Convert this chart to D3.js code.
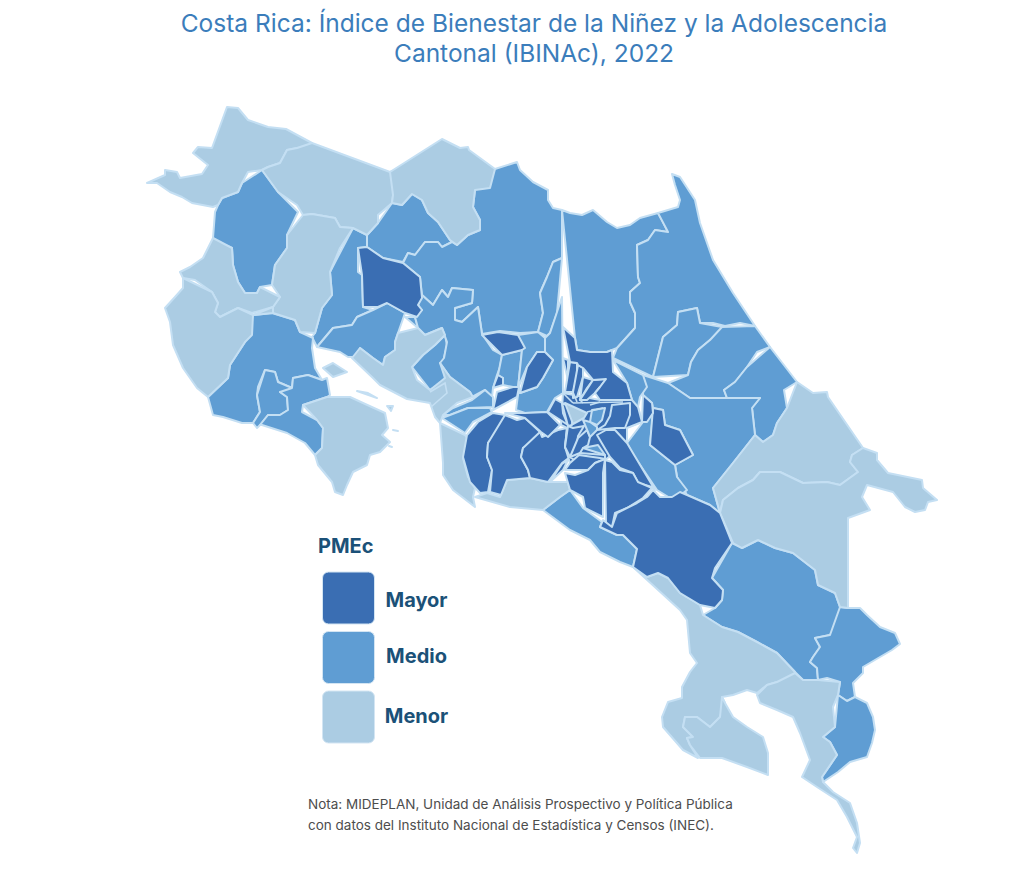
<!DOCTYPE html>
<html>
  <head>
    <meta charset="utf-8">
    <title>IBINAc 2022</title>
    <style>
      body { margin: 0; background: #fff; }
      svg { display: block; font-family: Inter, "Noto Sans", sans-serif; }
    </style>
  </head>
  <body>
    <script src="https://d3js.org/d3.v7.min.js"></script>
    <script>
      // Contornos, en unidades de mapa "x,y x,y ..."
      const cantonesMenor = [
        "227,107 238,108 248,120 268,127 286,129 312,143 308,155 297,148 287,150 280,163 268,167 262,170 248,172 242,183 238,192 222,198 218,205 213,207 192,203 182,197 170,192 157,183 147,183 165,175 165,170 177,172 180,178 202,174 208,165 193,153 198,147 212,148 208,138",
        "312,143 390,172 395,170 393,195 392,203 378,215 378,223 367,235 353,228 340,227 335,218 312,214 303,215 297,205 278,192 262,170 268,167 280,163 287,150 297,148 308,155",
        "390,172 442,139 460,148 468,147 469,150 495,169 490,188 475,190 473,207 480,220 480,230 468,235 457,245 450,240 438,222 428,213 422,200 412,194 402,205 392,203 393,195 395,170",
        "303,215 312,214 335,218 340,227 353,228 340,248 330,272 332,295 322,308 315,333 300,332 295,320 273,313 273,307 280,297 272,285 275,265 287,248 287,235 298,212",
        "213,238 208,248 203,258 190,267 180,272 183,278 195,280 212,292 218,303 215,312 220,317 238,308 252,313 273,307 280,297 260,287 257,293 245,293 238,282 233,265 232,248 220,243",
        "253,315 273,307 273,313 260,317",
        "183,278 183,288 175,297 165,308 170,322 173,345 183,368 197,388 208,397 228,378 230,365 245,342 252,335 253,315 238,308 220,317 215,312 218,303 212,292 195,280",
        "303,405 327,397 337,397 350,397 363,403 385,413 388,428 382,435 390,442 380,452 370,455 367,465 353,472 347,485 343,495 335,492 332,482 318,465 315,455 322,448 323,428 317,420 302,412",
        "323,368 333,363 347,372 333,377 325,375",
        "357,391 368,393 377,398 366,397",
        "387,406 393,406 391,411 387,410",
        "393,430 398,431 394,435",
        "389,446 392,447 391,450",
        "352,358 360,348 373,358 383,365 385,357 395,350 395,342 398,333 418,328 425,335 442,328 445,335 435,345 423,355 412,367 417,380 430,390 445,378 440,363 450,377 470,392 473,397 457,403 443,415 440,423 435,417 430,403 407,399 380,385 373,378 360,367",
        "440,423 465,435 475,447 463,458 468,477 475,488 473,497 475,507 453,490 443,475 443,463 450,447",
        "475,497 487,493 500,497 507,480 530,478 548,482 568,482 570,490 560,497 543,510 510,507 475,507",
        "797,382 813,393 827,392 828,397 863,448 852,455 850,462 858,472 840,485 827,482 803,483 780,472 760,472 753,480 738,488 723,500 720,513 713,488 733,463 755,435 763,442 773,435 777,423 787,408 784,390",
        "720,513 723,500 738,488 753,480 760,472 780,472 803,483 827,482 840,485 858,472 850,462 852,455 863,448 877,453 877,460 888,473 922,480 923,488 937,500 928,502 925,510 915,512 905,507 893,492 867,485 862,497 870,510 848,518 848,608 840,607 835,593 818,585 815,570 793,553 775,548 758,540 742,548 733,543 723,532",
        "633,567 647,577 658,573 668,578 680,593 700,605 703,615 722,627 738,632 757,642 777,653 795,672 793,690 777,682 767,685 757,693 747,690 733,695 722,697 725,703 723,707 720,717 710,727 697,717 685,717 683,727 693,737 687,738 690,745 698,758 683,750 663,727 662,717 668,702 682,698 682,687 690,672 697,663 690,653 687,620 680,610 657,583",
        "722,697 725,703 733,717 747,727 763,737 768,753 768,775 747,767 722,758 700,758 690,745 687,738 693,737 683,727 685,717 697,717 710,727 720,717 723,707",
        "795,673 803,680 818,680 840,682 838,695 833,707 835,727 823,737 830,742 837,755 822,777 823,782 833,792 850,803 857,823 860,843 857,853 853,848 857,837 847,817 837,800 817,787 802,777 810,760 800,733 793,717 777,710 760,703 757,695 767,685 777,682 793,690"
      ];
      const cantonesMedio = [
        "262,170 278,192 298,212 287,235 287,248 275,265 272,285 260,287 257,293 245,293 238,282 233,265 232,248 220,243 213,238 215,212 218,205 222,198 238,192 242,183 248,172",
        "392,203 402,205 412,194 422,200 428,213 438,222 450,240 452,242 442,247 438,242 425,242 415,255 408,253 403,262 383,258 367,247 367,235 378,223 378,215",
        "353,228 367,235 367,247 358,248 358,272 362,275 363,307 373,310 357,317 352,325 333,328 317,347 312,337 315,333 322,308 332,295 330,272 340,248",
        "317,347 333,328 352,325 357,317 373,310 387,303 405,313 398,333 395,342 395,350 385,357 383,365 373,358 360,348 357,357 348,357 340,352 320,352",
        "405,317 415,317 418,328 400,333",
        "412,367 423,355 435,345 445,335 447,345 444,358 445,380 430,390 417,380",
        "495,169 517,162 520,170 533,182 548,190 548,200 553,208 562,210 562,258 553,262 547,277 540,293 543,313 538,332 520,333 500,331 482,334 478,307 462,322 455,320 455,308 472,303 473,290 452,288 448,297 442,290 433,305 422,295 420,277 403,263 408,253 415,255 425,242 438,242 442,247 452,242 457,245 468,235 480,230 480,220 473,207 475,190 490,188",
        "422,295 433,305 442,290 448,297 452,288 473,290 472,303 455,308 455,320 462,322 478,307 482,334 493,350 502,355 500,367 497,375 493,388 492,397 485,390 472,397 470,392 450,377 440,363 444,358 447,342 442,328 425,335 418,328 415,317 422,310 418,305 422,298",
        "562,258 553,262 547,277 540,293 543,313 538,332 547,336 550,333 557,313 562,297",
        "562,297 563,393 555,398 547,412 525,413 516,410 519,387 520,393 537,387 543,378 553,360 545,352 545,338 550,333 557,313",
        "502,355 522,350 518,388 513,387 503,385 503,378 498,375 500,367",
        "518,335 538,332 545,338 545,352 537,352 527,367 518,388 522,350 525,348",
        "562,210 570,213 582,215 593,210 607,222 617,228 630,225 640,218 658,213 663,222 668,232 655,230 648,240 637,245 638,277 640,283 630,292 630,302 635,313 635,328 617,348 612,350 607,352 590,352 577,350 575,338 563,327",
        "658,213 678,207 680,200 675,185 672,174 680,177 695,200 700,223 713,260 733,293 755,326 740,323 725,326 713,323 700,323 697,308 678,312 677,325 663,337 653,377 613,358 617,348 635,328 635,313 630,302 630,292 640,283 638,277 637,245 648,240 655,230 668,232 663,222",
        "653,377 663,337 677,325 678,312 697,308 700,323 722,327 722,335 710,340 698,350 691,362 688,375 668,383",
        "722,327 755,326 770,347 757,352 747,367 735,382 724,390 727,398 690,398 668,383 688,375 691,362 698,350 710,340 722,335",
        "770,347 797,382 784,390 787,408 777,423 773,435 763,442 755,435 752,408 760,398 727,398 724,390 735,382 747,367 757,352",
        "643,375 668,383 690,398 760,398 752,408 755,435 733,463 713,488 720,513 710,505 687,495 677,477 675,465 693,455 680,430 665,425 663,410 653,408 652,403 643,395 647,387",
        "627,443 632,453 657,490 670,498 677,498 687,490 677,477 675,465 650,445 653,413 643,422 625,428",
        "613,360 643,375 647,387 640,397 638,407 642,422 625,428 630,415 632,400 627,383 613,372",
        "732,543 742,548 758,540 775,548 793,553 815,570 818,585 835,593 840,607 840,623 830,635 815,638 820,647 813,657 810,662 817,668 818,680 803,680 795,672 777,653 757,642 738,632 722,627 703,615 715,608 722,600 723,590 712,578 715,568",
        "840,607 848,608 860,608 867,615 880,627 895,633 900,644 892,650 880,657 863,667 863,673 853,683 855,697 847,701 838,695 840,682 827,678 818,680 817,668 810,662 813,657 820,647 815,638 830,635 840,623",
        "838,695 847,701 855,697 867,703 873,717 875,730 872,743 867,757 850,762 838,772 823,782 822,777 837,755 830,742 823,737 835,727 833,707",
        "543,510 560,497 570,490 583,508 602,522 600,527 617,535 623,535 637,549 633,567 620,562 600,552 590,540 570,530 555,518",
        "443,415 453,408 472,400 485,390 493,397 493,407 468,408 450,415 442,418",
        "442,418 450,415 468,408 490,408 492,412 473,422 465,433 450,423",
        "253,315 272,313 295,320 300,332 313,338 312,348 315,368 322,380 308,375 293,378 292,388 278,382 275,372 265,370 258,387 257,395 260,412 253,423 242,423 223,417 213,415 208,397 228,378 230,365 245,342 252,335",
        "265,370 275,372 278,382 292,388 287,392 280,392 287,397 288,410 280,415 268,415 260,425 257,428 253,423 260,412 257,395 258,387",
        "292,388 293,378 308,375 322,380 327,378 330,395 327,397 303,405 302,412 317,420 323,428 322,448 315,455 305,443 287,433 262,425 260,425 268,415 280,415 288,410 287,397 280,392 287,392"
      ];
      const cantonesMayor = [
        "358,248 367,247 383,258 403,263 420,277 422,298 418,305 422,310 417,317 405,313 387,303 378,307 363,307 362,275 358,272",
        "482,335 498,332 518,335 525,348 522,350 502,355 493,350",
        "527,367 537,352 545,352 553,360 543,378 537,387 520,393 518,388",
        "493,388 498,375 503,378 503,385 498,390",
        "493,410 497,392 513,387 519,387 517,397 516,410",
        "467,435 478,422 493,413 505,415 502,427 488,443 487,457 492,470 488,492 480,493 470,482 463,457 475,447",
        "505,415 517,420 525,418 540,432 537,443 523,448 521,457 528,470 530,478 507,480 501,495 490,492 492,470 487,457 488,443 502,427",
        "540,432 542,437 558,430 567,428 565,447 570,457 562,463 548,482 530,478 528,470 521,457 523,448 537,443",
        "550,482 562,464 568,460 563,470 568,482",
        "505,413 525,413 547,412 560,425 548,437 541,432 525,418 517,420",
        "563,393 600,400 632,400 638,407 642,422 627,428 627,443 605,460 590,460 570,463 565,447 567,428 561,425 563,413",
        "548,412 555,399 562,403 563,413 568,425 561,425",
        "562,403 573,408 572,425 568,426 565,415",
        "568,426 573,428 584,426 578,436 577,445 570,457 565,447 567,428",
        "578,438 587,430 590,437 588,445 583,448 580,453 577,460 570,457 577,445",
        "570,457 580,453 605,455 605,460 590,460 577,462 570,463",
        "597,430 605,425 610,416 612,405 630,403 630,415 625,428 615,428 606,430",
        "597,435 606,430 615,430 627,443 655,490 652,487 638,483 633,473 620,468 610,457 603,443",
        "565,470 570,463 579,455 600,458 605,459 595,463 588,470 575,475",
        "565,473 575,475 588,470 595,463 605,459 603,473 603,517 585,508 583,497 570,490 568,482",
        "605,460 612,462 620,470 633,473 638,482 652,488 643,498 627,508 615,513 612,527 606,524 603,518",
        "563,358 568,360 568,380 563,393",
        "570,362 577,363 577,378 573,392 565,392 568,380",
        "578,365 583,368 583,377 577,397 573,398 573,392 577,378",
        "583,377 593,380 587,388 580,400 577,397",
        "593,380 606,379 600,387 595,393 587,400 580,400 587,388",
        "563,327 575,338 577,350 590,352 607,352 612,350 613,372 627,383 632,400 600,400 595,393 600,387 606,379 593,380 583,368 578,365 577,363 570,362 563,358",
        "653,408 663,410 665,425 680,430 693,455 675,465 650,445 655,432",
        "643,395 652,403 653,413 647,422 642,422 638,407",
        "720,513 710,505 687,495 680,492 672,497 660,497 653,490 647,497 637,503 617,513 612,527 603,520 600,527 617,535 623,535 637,549 633,567 647,577 658,573 668,578 680,593 700,605 715,608 722,600 723,590 712,578 715,568 732,543 723,532"
      ];
      const centroMedio = [
        "592,410 605,408 602,420 597,425 590,422 595,413",
        "583,420 590,422 597,427 597,430 590,437 587,430",
        "583,448 598,445 605,455 580,453"
      ];
      const centroMenor = [
        "565,403 587,413 584,418 573,424 570,412"
      ];
      const divisorias = [
        "563,393 573,403", "573,392 577,402", "580,400 583,403",
        "573,403 623,402", "587,412 603,408", "590,405 600,402",
        "430,392 445,383 447,393 431,407"
      ];
      const niveles = ["Mayor", "Medio", "Menor"];
      const coloresNivel = ["#3a6eb3", "#5f9dd3", "#abcce3"];
      const tituloLineas = [
        "Costa Rica: Índice de Bienestar de la Niñez y la Adolescencia",
        "Cantonal (IBINAc), 2022"
      ];
      const notaLineas = [
        "Nota: MIDEPLAN, Unidad de Análisis Prospectivo y Política Pública",
        "con datos del Instituto Nacional de Estadística y Censos (INEC)."
      ];

      const svg = d3.select("body").append("svg")
        .attr("width", 1034)
        .attr("height", 880);

      const color = d3.scaleOrdinal().domain(niveles).range(coloresNivel);
      const path = d3.geoPath(d3.geoIdentity());
      const anillo = s => s.split(" ").map(p => p.split(",").map(Number));
      const poligono = s => ({ type: "Polygon", coordinates: [anillo(s)] });

      // orden de pintado: los cantones del centro van encima
      const capas = [
        [cantonesMedio, "Medio"],
        [cantonesMenor, "Menor"],
        [cantonesMayor, "Mayor"],
        [centroMedio, "Medio"],
        [centroMenor, "Menor"]
      ];
      const mapa = svg.append("g");
      capas.forEach(([lista, nivel]) => {
        mapa.append("g").selectAll("path")
          .data(lista.map(poligono))
          .join("path")
          .attr("d", path)
          .attr("fill", color(nivel))
          .attr("stroke", "#c4dff3")
          .attr("stroke-width", 2)
          .attr("stroke-linejoin", "round");
      });
      mapa.append("g").selectAll("path")
        .data(divisorias.map(s => ({ type: "LineString", coordinates: anillo(s) })))
        .join("path")
        .attr("d", path)
        .attr("fill", "none")
        .attr("stroke", "#c4dff3")
        .attr("stroke-width", 1.6);

      // Titulo
      svg.append("g").selectAll("text")
        .data(tituloLineas)
        .join("text")
        .attr("x", 534)
        .attr("y", (d, i) => 32 + i * 30)
        .attr("text-anchor", "middle")
        .attr("font-size", 24.5)
        .attr("fill", "#3b7dbb")
        .text(d => d);

      // Leyenda
      const filaY = d3.scalePoint().domain(niveles).range([572, 691]);
      const ajusteTexto = { Mayor: 35, Medio: 31, Menor: 32 };
      svg.append("text")
        .attr("x", 318).attr("y", 553)
        .attr("font-size", 20).attr("font-weight", 700)
        .attr("fill", "#1b5178")
        .text("PMEc");
      const fila = svg.append("g").selectAll("g")
        .data(niveles)
        .join("g");
      fila.append("rect")
        .attr("x", 322.5)
        .attr("y", d => filaY(d))
        .attr("width", 52).attr("height", 52).attr("rx", 6)
        .attr("fill", d => color(d))
        .attr("stroke", "#d3e5f3");
      fila.append("text")
        .attr("x", 416.5)
        .attr("y", d => filaY(d) + ajusteTexto[d])
        .attr("text-anchor", "middle")
        .attr("font-size", 20).attr("font-weight", 700)
        .attr("fill", "#1b5178")
        .text(d => d);

      // Nota
      svg.append("g").selectAll("text")
        .data(notaLineas)
        .join("text")
        .attr("x", 308)
        .attr("y", (d, i) => 809 + i * 21)
        .attr("font-size", 13.5)
        .attr("fill", "#4d4d4d")
        .text(d => d);
    </script>
  </body>
</html>
